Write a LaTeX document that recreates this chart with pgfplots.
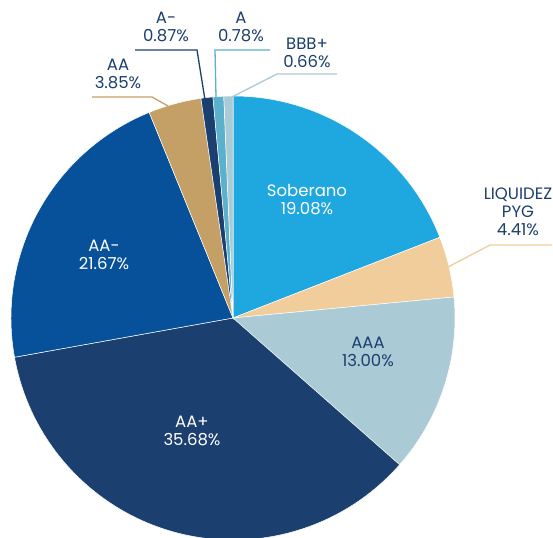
\documentclass[border=0pt]{standalone}
\usepackage{fontspec}
\setmainfont{Poppins}
\usepackage{pgfplots}
\usepackage{pgfplotstable}
\pgfplotsset{compat=1.18}
\definecolor{cSob}{HTML}{1FA8E0}
\definecolor{cLiq}{HTML}{F2CD9C}
\definecolor{cAAA}{HTML}{AACAD6}
\definecolor{cAAp}{HTML}{1B3F6F}
\definecolor{cAAm}{HTML}{06519A}
\definecolor{cAA}{HTML}{C4A066}
\definecolor{cAm}{HTML}{1B3F6F}
\definecolor{cA}{HTML}{5BB0CC}
\definecolor{cBBB}{HTML}{AACAD6}
\definecolor{txt}{HTML}{1B3F6F}
\pgfplotstableread{
label value col
Soberano 19.08 cSob
LiquidezPYG 4.41 cLiq
AAA 13.00 cAAA
AA+ 35.68 cAAp
AA- 21.67 cAAm
AA 3.85 cAA
A- 0.87 cAm
A 0.78 cA
BBB+ 0.66 cBBB
}\piedata
\begin{document}
\begin{tikzpicture}
\begin{axis}[
  x=1pt, y=1pt, scale only axis,
  xmin=0, xmax=553, ymin=0, ymax=537,
  hide axis, clip=true,
]
\pgfplotstablegetrowsof{\piedata}
\pgfmathtruncatemacro\N{\pgfplotsretval-1}
\def\cum{90}
\pgfplotsforeachungrouped \i in {0,...,\N}{%
  \pgfplotstablegetelem{\i}{value}\of\piedata \let\v\pgfplotsretval
  \pgfplotstablegetelem{\i}{col}\of\piedata \let\c\pgfplotsretval
  \pgfmathsetmacro\endang{\cum-3.6*\v}%
  \edef\temp{\noexpand\fill[\c, draw=white, line width=0.5pt] (axis cs:233,219) -- ++(\cum:222pt) arc[start angle=\cum, end angle=\endang, radius=222pt] -- cycle;}%
  \temp
  \global\let\cum\endang
}
% leader lines
\draw[cAA, line width=1.3pt] (axis cs:92,440) -- (axis cs:152,440) -- (axis cs:168,431);
\draw[cAm, line width=1.3pt] (axis cs:135,487) -- (axis cs:197,487) -- (axis cs:205,437);
\draw[cA, line width=1.3pt] (axis cs:270,487) -- (axis cs:215,487) -- (axis cs:216,440);
\draw[cBBB, line width=1.3pt] (axis cs:337,463) -- (axis cs:277,463) -- (axis cs:232,440);
\draw[cLiq, line width=1.3pt] (axis cs:552,292) -- (axis cs:490,292) -- (axis cs:448,270);
% labels
\begin{scope}[every node/.style={font=\fontsize{16.5}{18}\selectfont, align=center, inner sep=0pt}]
\node[white] at (axis cs:307,337) {Soberano\\19.08\%};
\node[white] at (axis cs:104,282) {AA-\\21.67\%};
\node[white] at (axis cs:192,106) {AA+\\35.68\%};
\node[txt] at (axis cs:368,185) {AAA\\13.00\%};
\node[txt] at (axis cs:518,325) {LIQUIDEZ\\PYG\\4.41\%};
\node[txt] at (axis cs:118,463) {AA\\3.85\%};
\node[txt] at (axis cs:166,510) {A-\\0.87\%};
\node[txt] at (axis cs:241,510) {A\\0.78\%};
\node[txt] at (axis cs:307,484) {BBB+\\0.66\%};
\end{scope}
\end{axis}
\pgfresetboundingbox
\path[use as bounding box] (current axis.south west) rectangle (current axis.north east);
\end{tikzpicture}
\end{document}
